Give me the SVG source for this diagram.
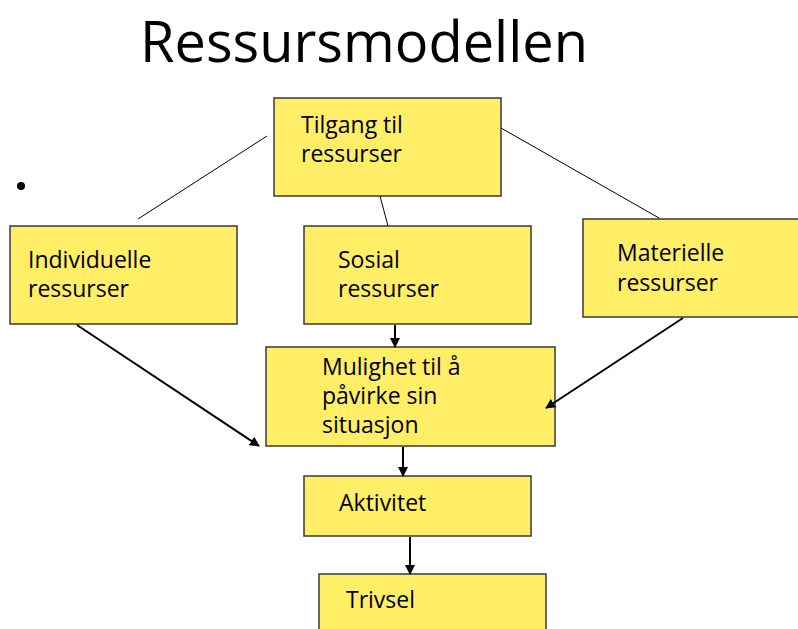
<svg xmlns="http://www.w3.org/2000/svg" width="798" height="629" viewBox="0 0 798 629">
<style>
.box{fill:#FFEE66;stroke:#3a3a3a;stroke-width:1.5}
.t{font-family:"Open Sans","DejaVu Sans",sans-serif;font-size:23px;fill:#000}
.title{font-family:"Open Sans","DejaVu Sans",sans-serif;font-size:56px;fill:#000}
.ln{stroke:#000;stroke-width:1;fill:none}
.ar{stroke:#000;stroke-width:2;fill:none;marker-end:url(#ah)}
</style>
<defs>
<marker id="ah" viewBox="0 0 10 10" refX="9" refY="5" markerWidth="5" markerHeight="5" orient="auto" markerUnits="strokeWidth">
<path d="M0,0 L10,5 L0,10 z" fill="#000"/>
</marker>
</defs>
<rect width="798" height="629" fill="#fff"/>
<text class="title" x="140" y="62" textLength="448" lengthAdjust="spacingAndGlyphs">Ressursmodellen</text>
<circle cx="21" cy="186" r="4" fill="#000"/>
<g id="tilgang">
<rect class="box" x="274" y="98" width="227" height="98"/>
<text class="t" x="301" y="133">Tilgang til</text>
<text class="t" x="301" y="162">ressurser</text>
</g>
<g id="individuelle">
<rect class="box" x="10" y="226" width="227" height="98"/>
<text class="t" x="28" y="268">Individuelle</text>
<text class="t" x="28" y="297">ressurser</text>
</g>
<g id="sosial">
<rect class="box" x="304" y="226" width="227" height="98"/>
<text class="t" x="338" y="268">Sosial</text>
<text class="t" x="338" y="297">ressurser</text>
</g>
<g id="materielle">
<rect class="box" x="583" y="219" width="227" height="98"/>
<text class="t" x="617" y="261">Materielle</text>
<text class="t" x="617" y="291">ressurser</text>
</g>
<g id="mulighet">
<rect class="box" x="266" y="347" width="289" height="99"/>
<text class="t" x="322" y="375">Mulighet til å</text>
<text class="t" x="322" y="404">påvirke sin</text>
<text class="t" x="322" y="433">situasjon</text>
</g>
<g id="aktivitet">
<rect class="box" x="304" y="476" width="227" height="60"/>
<text class="t" x="339" y="511">Aktivitet</text>
</g>
<g id="trivsel">
<rect class="box" x="319" y="574" width="227" height="70"/>
<text class="t" x="346" y="608">Trivsel</text>
</g>
<g id="connectors">
<line class="ln" x1="267" y1="136" x2="138" y2="219"/>
<line class="ln" x1="380" y1="196" x2="388" y2="226"/>
<line class="ln" x1="501" y1="128" x2="659" y2="218"/>
<line class="ar" x1="395" y1="325" x2="395" y2="347"/>
<line class="ar" x1="77" y1="325" x2="259" y2="446"/>
<line class="ar" x1="683" y1="318" x2="546" y2="408"/>
<line class="ar" x1="403" y1="447" x2="403" y2="476"/>
<line class="ar" x1="410" y1="537" x2="410" y2="574"/>
</g>
</svg>
